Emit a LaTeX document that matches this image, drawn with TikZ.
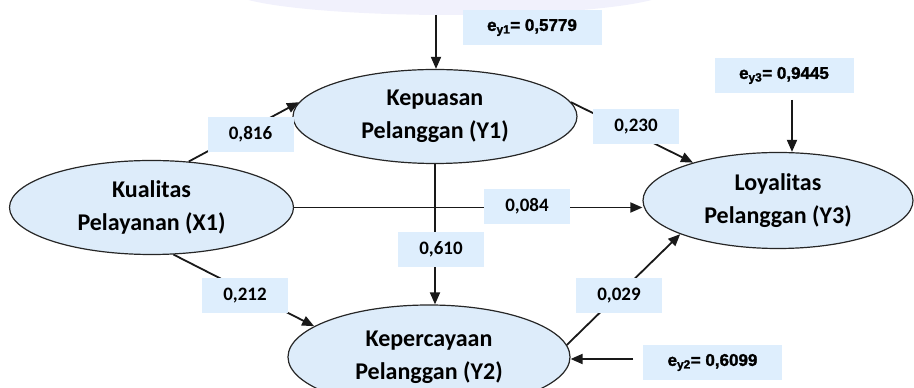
\documentclass[tikz,border=0pt]{standalone}
\usepackage{fontspec}
\setmainfont{Carlito}
\newfontfamily\errfont{Liberation Sans}[BoldFeatures={FakeBold=1.5}]
\usepackage{tikz}
\definecolor{nodeblue}{RGB}{221,236,250}
\definecolor{labelblue}{RGB}{222,238,253}
\definecolor{washblue}{RGB}{241,241,252}
\usetikzlibrary{shapes.geometric, arrows.meta, positioning, calc}

\begin{document}
\begin{tikzpicture}[
    x=1pt, y=1pt,
    latent/.style={ellipse, draw=black!85, fill=nodeblue, line width=1.2pt,
                inner sep=0pt, minimum width=284pt, minimum height=94pt, align=center,
                font=\fontsize{24}{33}\selectfont\bfseries},
    coef/.style={rectangle, fill=labelblue, minimum width=86pt, minimum height=35pt,
                inner sep=0pt, font=\fontsize{19}{19}\selectfont\bfseries},
    resid/.style={coef, minimum width=139pt, font=\errfont\fontsize{17}{17}\selectfont\bfseries},
    arrow/.style={-{Triangle[length=12pt, width=10pt]}, line width=1.8pt, black!90}
]
    \useasboundingbox (0,0) rectangle (914,388);
    \fill[washblue] (450,398) ellipse [x radius=220pt, y radius=25pt];

    \node[latent] (x1) at (151.5,180.5) {Kualitas\\Pelayanan (X1)};
    \node[latent] (y1) at (435,271.5) {Kepuasan\\Pelanggan (Y1)};
    \node[latent, minimum width=270pt, minimum height=96pt] (y3) at (778,187.5) {Loyalitas\\Pelanggan (Y3)};
    \node[latent, minimum width=282pt, minimum height=104pt] (y2) at (429,31) {Kepercayaan\\Pelanggan (Y2)};

    \coordinate (e1) at (436,373);
    \coordinate (e3) at (792,288);
    \coordinate (e2) at (633,29);

    \draw[arrow] (e1) -- (e1 |- y1.north);
    \draw[arrow] (e3) -- (e3 |- y3.north);
    \draw[arrow] (e2) -- (y2.east |- e2);
    \draw[arrow] (x1.51) -- (y1.174);
    \draw[arrow] (y1.6) -- (y3.156);
    \draw[arrow] (x1.east) -- (x1.east -| y3.west);
    \draw[arrow] (y1.south) -- (y1.south |- y2.north);
    \draw[arrow] (x1.295) -- (y2.165);
    \draw[arrow] (y2.5) -- (y3.199);

    \node[coef] (c816) at (250.5,253.5) {0,816};
    \node[coef] (c230) at (636,261.5) {0,230};
    \node[coef] (c084) at (527,181.5) {0,084};
    \node[coef] (c610) at (441,138.5) {0,610};
    \node[coef] (c212) at (245,92.5) {0,212};
    \node[coef] (c029) at (619,92.5) {0,029};

    \node[resid] (ey1) at (532,360.5) {e\textsubscript{y1}= 0,5779};
    \node[resid] (ey3) at (784,312.5) {e\textsubscript{y3}= 0,9445};
    \node[resid] (ey2) at (712.5,25.5) {e\textsubscript{y2}= 0,6099};
\end{tikzpicture}
\end{document}
